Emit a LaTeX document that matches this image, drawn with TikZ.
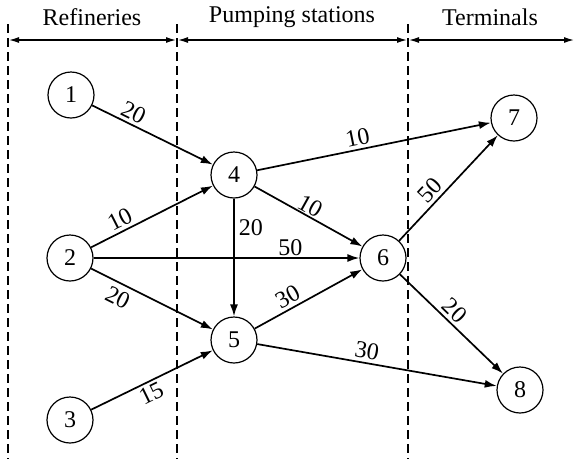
\documentclass[tikz,border=0pt]{standalone}
\usepackage{fontspec}
\setmainfont{Liberation Serif}
\usetikzlibrary{arrows.meta}

\begin{document}
\begin{tikzpicture}[x=1pt,y=1pt,
        every node/.style={font=\fontsize{24}{27}\selectfont},
        v/.style={draw, circle, line width=1.2pt, minimum size=46pt, inner sep=0pt},
        e/.style={-{Latex[length=12pt,width=8pt]}, line width=1.7pt},
        w/.style={sloped, inner sep=3pt},
        sep/.style={dash pattern=on 9pt off 5pt, line width=1.2pt},
        span/.style={{Latex[length=10pt,width=6pt]}-{Latex[length=10pt,width=6pt]}, line width=1.3pt},
      ]
      \useasboundingbox (0,0) rectangle (575,-459);
      \coordinate (s1t) at (8,-24);   \coordinate (s1b) at (8,-459);
      \coordinate (s2t) at (177,-24); \coordinate (s2b) at (177,-459);
      \coordinate (s3t) at (408,-24); \coordinate (s3b) at (408,-459);
      \coordinate (h0) at (9,-40);  \coordinate (h1) at (176,-40);
      \coordinate (h2) at (178,-40); \coordinate (h3) at (407,-40);
      \coordinate (h4) at (409,-40); \coordinate (h5) at (574,-40);
      \draw[sep] (s1t) -- (s1b);
      \draw[sep] (s2t) -- (s2b);
      \draw[sep] (s3t) -- (s3b);
      \draw[span] (h0) -- (h1);
      \draw[span] (h2) -- (h3);
      \draw[span] (h4) -- (h5);
      \node (ref) at (92,-17)  {Refineries};
      \node (pump) at (292,-17) {Pumping stations};
      \node (term) at (490,-17) {Terminals};
      \node[v] (n1) at (71,-95)   {1};
      \node[v] (n2) at (70,-258)  {2};
      \node[v] (n3) at (70,-420)  {3};
      \node[v] (n4) at (234,-175) {4};
      \node[v] (n5) at (234,-340) {5};
      \node[v] (n6) at (383,-258) {6};
      \node[v] (n7) at (514,-118) {7};
      \node[v] (n8) at (520,-390) {8};
      \draw[e] (n1) -- node[w, above, pos=0.3] {20} (n4);
      \draw[e] (n2) -- node[w, above, pos=0.28] {10} (n4);
      \draw[e] (n2) -- node[w, above, pos=0.74, inner sep=1pt] {50} (n6);
      \draw[e] (n2) -- node[w, below, pos=0.27, inner sep=5pt] {20} (n5);
      \draw[e] (n3) -- node[w, below, pos=0.45] {15} (n5);
      \draw[e] (n4) -- node[w, above, pos=0.44] {10} (n7);
      \draw[e] (n4) -- node[w, above, pos=0.47, inner sep=1pt] {10} (n6);
      \draw[e] (n4) -- node[right, pos=0.25, inner sep=4pt] {20} (n5);
      \draw[e] (n5) -- node[w, above, pos=0.36] {30} (n6);
      \draw[e] (n5) -- node[w, above, pos=0.45] {30} (n8);
      \draw[e] (n6) -- node[w, above, pos=0.4] {50} (n7);
      \draw[e] (n6) -- node[w, above, pos=0.45] {20} (n8);
    \end{tikzpicture}
\end{document}
